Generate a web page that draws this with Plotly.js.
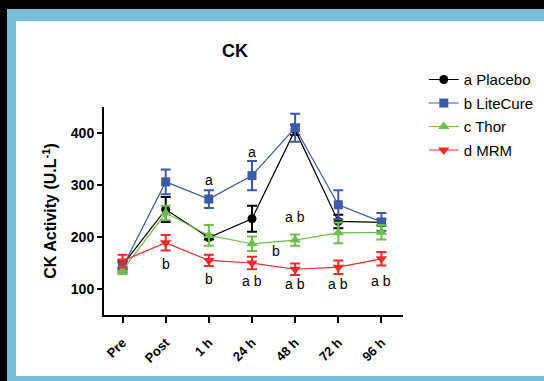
<!DOCTYPE html>
<html>
<head>
<meta charset="utf-8">
<script src="https://cdn.plot.ly/plotly-3.0.1.min.js"></script>
<style>
html,body{margin:0;padding:0;width:544px;height:381px;overflow:hidden;background:#000;}
#blue{position:absolute;left:7px;top:9px;width:537px;height:372px;background:#78bdd6;}
#white{position:absolute;left:16px;top:21px;width:528px;height:355px;background:#fff;}
#chart{position:absolute;left:0;top:0;width:544px;height:381px;}
</style>
</head>
<body>
<div id="blue"></div>
<div id="white"></div>
<div id="chart"></div>
<script>
// Data
var timepoints = ["Pre", "Post", "1 h", "24 h", "48 h", "72 h", "96 h"];
var placebo    = [146, 253, 199, 235, 406, 230, 228];
var placeboErr = [8, 24, 4, 25, 10, 13, 6];
var litecure    = [142, 306, 273, 318, 410, 262, 229];
var litecureErr = [9, 24, 17, 28, 27, 28, 17];
var thor    = [136, 246, 203, 187, 194, 208, 209];
var thorErr = [7, 14, 20, 14, 11, 20, 14];
var mrm    = [154, 189, 155, 150, 138, 142, 158];
var mrmErr = [12, 15, 11, 12, 11, 13, 13];

// significance letters: [time index offset, value, text]
var sigX    = [1, 2, 2, 3, 3, 3.55, 4, 4, 5, 6];
var sigY    = [149, 310, 119, 364, 116, 174, 238, 110, 110, 116];
var sigText = ["b", "a", "b", "a", "a b", "b", "a b", "a b", "a b", "a b"];

var xIdx = timepoints.map(function(_, i){ return i; });

function mk(name, y, err, color, symbol, size){
  return {
    type: "scatter", mode: "lines+markers", name: name,
    x: xIdx, y: y,
    line: {color: color, width: 1.2},
    marker: {color: color, symbol: symbol, size: size},
    error_y: {type: "data", array: err, visible: true, color: color, thickness: 2, width: 5},
    legendgroup: name
  };
}

var traces = [
  mk("a Placebo", placebo, placeboErr, "#000000", "circle", 9),
  mk("b LiteCure", litecure, litecureErr, "#3b5aa8", "square", 9),
  mk("c Thor", thor, thorErr, "#6cbf4a", "triangle-up", 10),
  mk("d MRM", mrm, mrmErr, "#ee2a2a", "triangle-down", 10)
];

var annotations = sigText.map(function(t, i){
  return {x: sigX[i], y: sigY[i], xref: "x", yref: "y", text: t, showarrow: false,
          font: {family: "Liberation Sans, Arial, sans-serif", size: 14, color: "#000"}};
});

var layout = {
  width: 544, height: 381,
  margin: {l: 104, r: 141, t: 107, b: 66, autoexpand: false},
  paper_bgcolor: "rgba(0,0,0,0)",
  plot_bgcolor: "rgba(0,0,0,0)",
  font: {family: "Liberation Sans, Arial, sans-serif", color: "#000"},
  title: {text: "<b>CK</b>", font: {size: 18, color: "#000"}, xref: "paper", x: 0.438, xanchor: "center",
          yref: "container", y: 0.866, yanchor: "middle"},
  xaxis: {
    range: [-0.43, 6.5], tickmode: "array", tickvals: xIdx,
    ticktext: timepoints.map(function(t){ return "<b>" + t + "</b>"; }),
    tickangle: -45, ticks: "outside", ticklen: 6, tickwidth: 2, tickcolor: "#000",
    ticklabelstandoff: 7, automargin: false,
    showline: true, linecolor: "#000", linewidth: 2, showgrid: false, zeroline: false,
    tickfont: {size: 13, color: "#000"}
  },
  yaxis: {
    range: [50, 450], tickvals: [100, 200, 300, 400],
    ticktext: ["<b>100</b>", "<b>200</b>", "<b>300</b>", "<b>400</b>"],
    ticks: "outside", ticklen: 5, tickwidth: 2, tickcolor: "#000", automargin: false,
    showline: true, linecolor: "#000", linewidth: 2, showgrid: false, zeroline: false,
    tickfont: {size: 14, color: "#000"},
    title: {text: "<b>CK Activity (U.L<sup>-1</sup>)</b>", font: {size: 16, color: "#000"}, standoff: 10}
  },
  showlegend: true,
  legend: {xref: "container", yref: "container", x: 0.779, xanchor: "left", y: 0.834, yanchor: "top",
           traceorder: "grouped", tracegroupgap: 1,
           font: {size: 15, color: "#000"}, bgcolor: "rgba(0,0,0,0)", itemwidth: 30},
  annotations: annotations
};

Plotly.newPlot("chart", traces, layout, {displayModeBar: false, staticPlot: true});
</script>
</body>
</html>
